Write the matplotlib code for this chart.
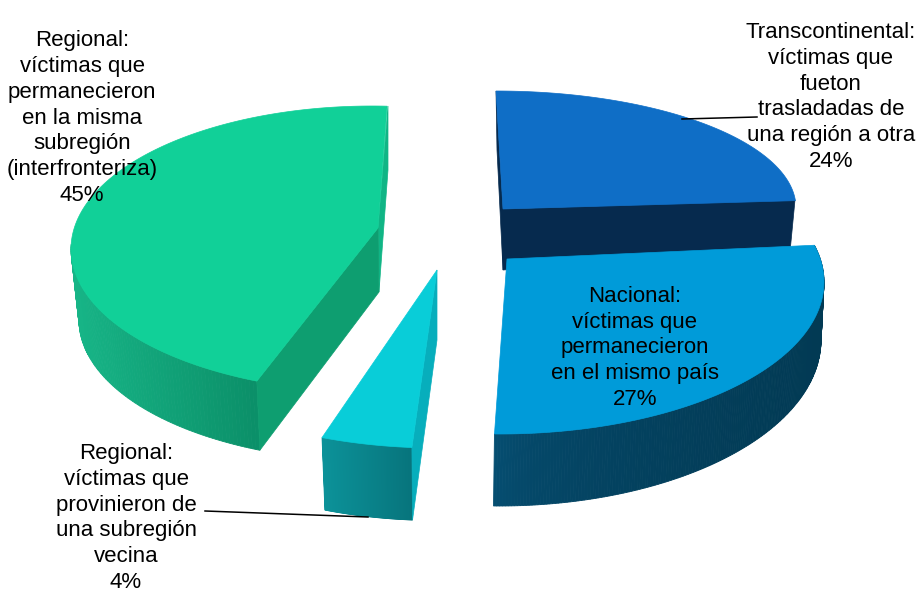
import numpy as np
import matplotlib.pyplot as plt
from matplotlib.colors import to_rgb
from matplotlib.patches import Polygon

plt.rcParams['font.family'] = ['Liberation Sans', 'DejaVu Sans']

# shares in pie order, clockwise from the top
names = ['Transcontinental', 'Nacional', 'Regional vecina', 'Regional subregion']
shares = [24, 27, 4, 45]
labels = [
    'Transcontinental:\nvíctimas que\nfueton\ntrasladadas de\nuna región a otra\n24%',
    'Nacional:\nvíctimas que\npermanecieron\nen el mismo país\n27%',
    'Regional:\nvíctimas que\nprovinieron de\nuna subregión\nvecina\n4%',
    'Regional:\nvíctimas que\npermanecieron\nen la misma\nsubregión\n(interfronteriza)\n45%',
]

# sweep of each slice in degrees
sweeps = np.array(shares) / sum(shares) * 360
starts = np.concatenate(([0], np.cumsum(sweeps)[:-1]))


def arc(cx, cy, a, b, t):
    t = np.radians(t)
    return np.column_stack((cx + a*np.sin(t), cy - b*np.cos(t)))


def slice_angles(i, rot, stretch):
    # the perspective of the original bends angles a little, rot/stretch follow that
    a0 = starts[i] + rot
    return np.linspace(a0, a0 + sweeps[i]*stretch, 200)


def top_face(apex, ell, t, color):
    pts = np.vstack(([apex], arc(*ell, t)))
    ax.add_patch(Polygon(pts, closed=True, fc=color, ec=color, lw=0.5, zorder=3))


def wall(top_ell, low_ell, t, c1, c2, power=1.0):
    # curved outer wall, drawn in strips for the horizontal gradient
    up = arc(*top_ell, t)
    low = arc(*low_ell, t)
    xs = np.concatenate((up[:, 0], low[:, 0]))
    for k in range(len(t)-1):
        f = ((up[k, 0] - xs.min()) / (xs.max() - xs.min()))**power
        col = (1-f)*np.array(to_rgb(c1)) + f*np.array(to_rgb(c2))
        pts = [up[k], up[k+1], low[k+1], low[k]]
        ax.add_patch(Polygon(pts, closed=True, fc=col, ec=col, lw=0.6, zorder=2))


fig = plt.figure(figsize=(9.18, 5.92), dpi=100)
ax = fig.add_axes([0, 0, 1, 1])
ax.set_xlim(0, 918)
ax.set_ylim(592, 0)
ax.axis('off')

# Transcontinental
t = slice_angles(0, 0, 1.0)
ax.add_patch(Polygon([(496, 91), (503, 209), (503, 270), (497, 150)], fc='#062A4E', ec='#062A4E', lw=0.5, zorder=1))
ax.add_patch(Polygon([(503, 209), (795, 200), (790, 252), (503, 270)], fc='#062A4E', ec='#062A4E', lw=0.5, zorder=1))
top_face((503, 209), (496, 208, 300, 117), t, '#0F6EC6')

# Nacional, its top edge covers the lower part of the wall above
t = slice_angles(1, -10.4, 1.08)
ell = (500, 282, 324, 152)
wall(ell, (499, 340, 322, 166), t, '#065176', '#023A54', power=0.45)
top_face((507, 259), ell, t, '#009BD9')
ax.patches[-1].set_zorder(4)

# Regional vecina
t = slice_angles(2, 0.9, 1.15)
ell = (437, 292, 320, 156)
low = (437, 364.5, 312, 156)
wall(ell, low, t, '#0C9299', '#07747C')
side = [(437, 270), arc(*ell, t[:1])[0], arc(*low, t[:1])[0], (437, 340)]
ax.add_patch(Polygon(side, fc='#07AEBC', ec='#07AEBC', lw=0.5, zorder=3))
top_face((437, 270), ell, t, '#09CDD8')

# Regional subregion
t = slice_angles(3, 4.5, 0.99)
ell = (372, 249, 301, 143)
low = (372, 320, 293, 141)
wall(ell, low, t[t <= 272], '#17B587', '#0B8F68')
side = [arc(*ell, t[:1])[0], (378, 228), (379, 292), arc(*low, t[:1])[0]]
ax.add_patch(Polygon(side, fc='#0E9E70', ec='#0E9E70', lw=0.5, zorder=3))
ax.add_patch(Polygon([(388, 106), (378, 228), (379, 292), (388, 170)], fc='#10B585', ec='#10B585', lw=0.5, zorder=2))
top_face((378, 228), ell, t, '#11D098')

# leader lines
ax.plot([682, 757], [119, 117], color='black', lw=1.1, zorder=5)
ax.plot([205, 368], [511, 517], color='black', lw=1.1, zorder=5)

label_pos = [(831, 97), (635, 348), (126, 518), (82, 118)]
for (x, y), s in zip(label_pos, labels):
    ax.text(x, y, s, ha='center', va='center', fontsize=16, color='black',
            linespacing=1.31, zorder=6)

fig.savefig('out.png', dpi=100)
